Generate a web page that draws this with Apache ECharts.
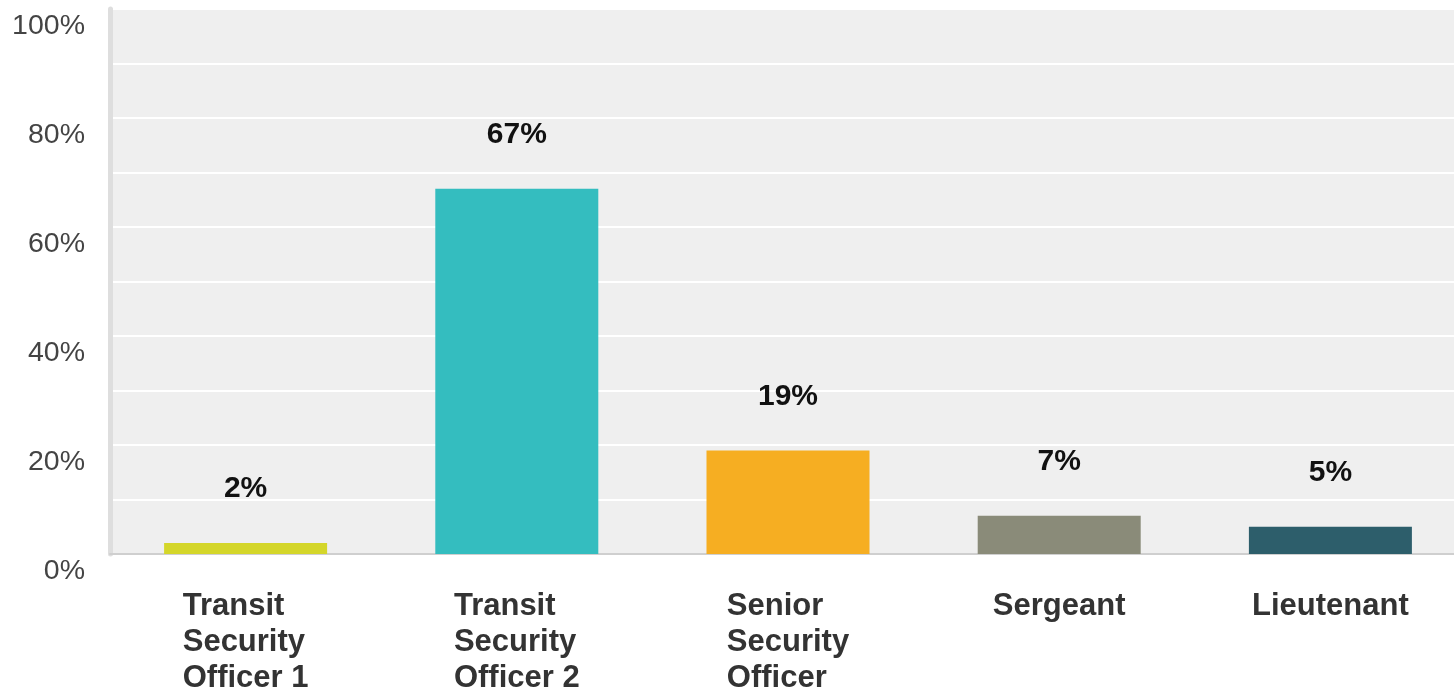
<!DOCTYPE html>
<html>
<head>
<meta charset="utf-8">
<script src="https://cdn.jsdelivr.net/npm/echarts@6/dist/echarts.min.js"></script>
<style>
  html, body { margin: 0; padding: 0; background: #ffffff; }
  #chart { width: 1454px; height: 691px; }
</style>
</head>
<body>
<div id="chart"></div>
<script>
// Share of respondents by rank
const categories = [
  'Transit\nSecurity\nOfficer 1',
  'Transit\nSecurity\nOfficer 2',
  'Senior\nSecurity\nOfficer',
  'Sergeant',
  'Lieutenant'
];
const shares = [2, 67, 19, 7, 5];
const barColors = ['#d4d62a', '#34bdbf', '#f6ae22', '#8a8b79', '#2d5e6b'];
const yTickLabels = [0, 20, 40, 60, 80, 100];

const FONT = '"Liberation Sans", Arial, sans-serif';

const chart = echarts.init(document.getElementById('chart'), null, { renderer: 'canvas' });

chart.setOption({
  animation: false,
  grid: {
    left: 110,
    top: 9,
    height: 545,
    width: 1356,
    outerBoundsMode: 'none',
    containLabel: false,
    show: true,
    backgroundColor: '#efefef',
    borderWidth: 0
  },
  xAxis: {
    type: 'category',
    data: categories,
    axisTick: { show: false },
    axisLine: { show: true, lineStyle: { color: '#cfcfcf', width: 2 } },
    axisLabel: {
      interval: 0,
      margin: 34,
      color: '#333333',
      fontFamily: FONT,
      fontWeight: 'bold',
      fontSize: 31,
      lineHeight: 36,
      formatter: function (value) {
        return value.split('\n').map(function (line) { return '{l|' + line + '}'; }).join('\n');
      },
      rich: {
        l: {
          align: 'left',
          color: '#333333',
          fontFamily: FONT,
          fontWeight: 'bold',
          fontSize: 31,
          lineHeight: 36
        }
      }
    }
  },
  yAxis: {
    type: 'value',
    min: 0,
    max: 100,
    interval: 10,
    axisTick: { show: false },
    axisLine: { show: true, lineStyle: { color: '#dedede', width: 5 } },
    splitLine: { show: true, lineStyle: { color: '#ffffff', width: 2 } },
    axisLabel: {
      margin: 25,
      color: '#444444',
      fontFamily: FONT,
      fontSize: 28.5,
      verticalAlign: 'top',
      padding: [3, 0, 0, 0],
      formatter: function (v) {
        return yTickLabels.indexOf(v) >= 0 ? v + '%' : '';
      }
    }
  },
  series: [{
    type: 'bar',
    barWidth: 163,
    data: shares.map(function (v, i) {
      return { value: v, itemStyle: { color: barColors[i] } };
    }),
    label: {
      show: true,
      position: 'top',
      distance: 39,
      color: '#111111',
      fontFamily: FONT,
      fontWeight: 'bold',
      fontSize: 30,
      formatter: function (p) { return p.value + '%'; }
    }
  }]
});
</script>
</body>
</html>
